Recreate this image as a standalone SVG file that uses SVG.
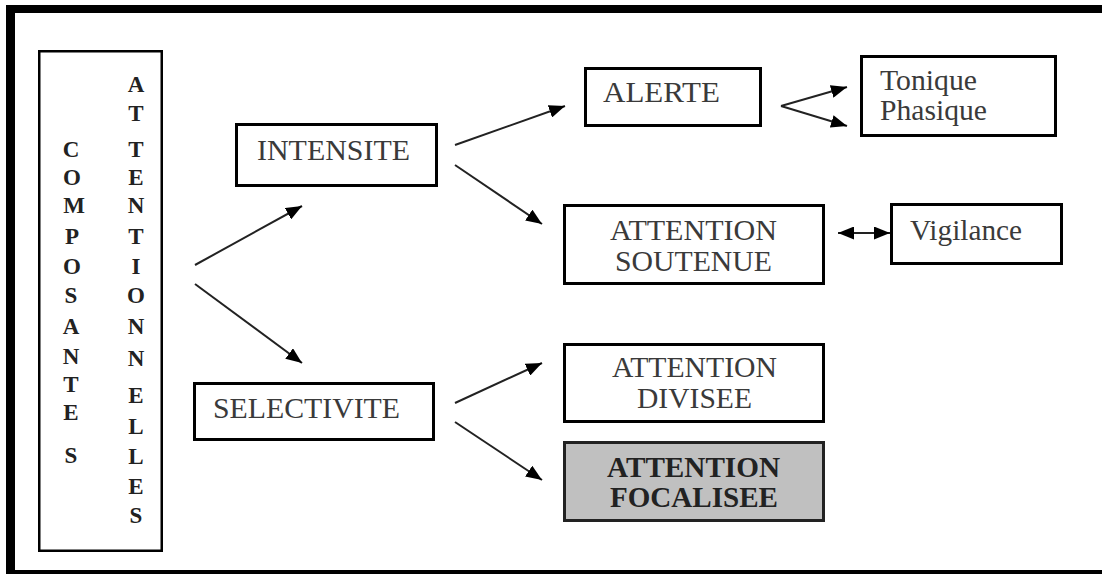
<svg xmlns="http://www.w3.org/2000/svg" width="1102" height="574" viewBox="0 0 1102 574">
  <defs>
    <marker id="ah" viewBox="0 0 16 13" refX="16" refY="6.5" markerWidth="16" markerHeight="13" markerUnits="userSpaceOnUse" orient="auto-start-reverse">
      <path d="M0,0 L16,6.5 L0,13 z" fill="#000"/>
    </marker>
    <style>
      .box { fill: #fff; stroke: #000; stroke-width: 3; }
      .t { font-family: "Liberation Serif", "Times New Roman", serif; font-size: 29px; fill: #3a3a3a; }
      .tb { font-family: "Liberation Serif", "Times New Roman", serif; font-size: 29px; font-weight: bold; fill: #222; }
      .v { font-family: "Liberation Serif", "Times New Roman", serif; font-size: 23px; font-weight: bold; fill: #222; text-anchor: middle; }
      .c { stroke: #222; stroke-width: 2; fill: none; }
      .a { marker-end: url(#ah); }
      .a2 { marker-start: url(#ah); marker-end: url(#ah); }
    </style>
  </defs>
  <rect width="1102" height="574" fill="#fff"/>
  <g id="frame" fill="#000">
    <rect x="6" y="5" width="1096" height="8"/>
    <rect x="6" y="5" width="9" height="569"/>
    <rect x="6" y="570" width="1096" height="4"/>
  </g>

  <g id="composantes">
    <rect x="39.25" y="51.25" width="122.5" height="499.5" fill="#fff" stroke="#000" stroke-width="2.5"/>
    <text class="v" x="71" y="157">C</text>
    <text class="v" x="72" y="185">O</text>
    <text class="v" x="74" y="213">M</text>
    <text class="v" x="72" y="244">P</text>
    <text class="v" x="72" y="274">O</text>
    <text class="v" x="71" y="303">S</text>
    <text class="v" x="71" y="334">A</text>
    <text class="v" x="71" y="364">N</text>
    <text class="v" x="71" y="392">T</text>
    <text class="v" x="71" y="420">E</text>
    <text class="v" x="71" y="463">S</text>
    <text class="v" x="136" y="92">A</text>
    <text class="v" x="136" y="121">T</text>
    <text class="v" x="136" y="157">T</text>
    <text class="v" x="136" y="185">E</text>
    <text class="v" x="136" y="213">N</text>
    <text class="v" x="136" y="244">T</text>
    <text class="v" x="136" y="274">I</text>
    <text class="v" x="136" y="303">O</text>
    <text class="v" x="136" y="334">N</text>
    <text class="v" x="136" y="366">N</text>
    <text class="v" x="136" y="403">E</text>
    <text class="v" x="136" y="434">L</text>
    <text class="v" x="136" y="464">L</text>
    <text class="v" x="136" y="494">E</text>
    <text class="v" x="136" y="523">S</text>
  </g>

  <g id="intensite">
    <rect class="box" x="236.5" y="124.5" width="200" height="61"/>
    <text class="t" x="257" y="160" textLength="153" lengthAdjust="spacingAndGlyphs">INTENSITE</text>
  </g>
  <g id="selectivite">
    <rect class="box" x="194.5" y="383.5" width="239" height="56"/>
    <text class="t" x="213" y="418" textLength="187" lengthAdjust="spacingAndGlyphs">SELECTIVITE</text>
  </g>
  <g id="alerte">
    <rect class="box" x="585.5" y="68.5" width="175" height="57"/>
    <text class="t" x="603" y="102" textLength="117" lengthAdjust="spacingAndGlyphs">ALERTE</text>
  </g>
  <g id="soutenue">
    <rect class="box" x="564.5" y="205.5" width="259" height="78"/>
    <text class="t" x="610" y="240" textLength="167" lengthAdjust="spacingAndGlyphs">ATTENTION</text>
    <text class="t" x="615" y="271" textLength="157" lengthAdjust="spacingAndGlyphs">SOUTENUE</text>
  </g>
  <g id="tonique">
    <rect class="box" x="861.5" y="56.5" width="194" height="79"/>
    <text class="t" x="880" y="90" textLength="97" lengthAdjust="spacingAndGlyphs">Tonique</text>
    <text class="t" x="880" y="120" textLength="107" lengthAdjust="spacingAndGlyphs">Phasique</text>
  </g>
  <g id="vigilance">
    <rect class="box" x="891.5" y="204.5" width="170" height="59"/>
    <text class="t" x="910" y="240" textLength="112" lengthAdjust="spacingAndGlyphs">Vigilance</text>
  </g>
  <g id="divisee">
    <rect class="box" x="564.5" y="344.5" width="259" height="77"/>
    <text class="t" x="612" y="377" textLength="165" lengthAdjust="spacingAndGlyphs">ATTENTION</text>
    <text class="t" x="637" y="408" textLength="115" lengthAdjust="spacingAndGlyphs">DIVISEE</text>
  </g>
  <g id="focalisee">
    <rect x="564.5" y="442.5" width="259" height="78" fill="#c0c0c0" stroke="#222" stroke-width="3"/>
    <text class="tb" x="607" y="477" textLength="173" lengthAdjust="spacingAndGlyphs">ATTENTION</text>
    <text class="tb" x="610" y="507" textLength="168" lengthAdjust="spacingAndGlyphs">FOCALISEE</text>
  </g>

  <g id="connectors">
    <line class="c a" x1="195" y1="265" x2="302" y2="206"/>
    <line class="c a" x1="195" y1="284" x2="302" y2="363"/>
    <line class="c a" x1="455" y1="145" x2="565" y2="106"/>
    <line class="c a" x1="455" y1="165" x2="542" y2="224"/>
    <line class="c a" x1="781" y1="106" x2="847" y2="87"/>
    <line class="c a" x1="781" y1="106" x2="847" y2="126"/>
    <line class="c a2" x1="838" y1="233" x2="890" y2="233"/>
    <line class="c a" x1="455" y1="403" x2="542" y2="363"/>
    <line class="c a" x1="455" y1="422" x2="542" y2="480"/>
  </g>
</svg>
